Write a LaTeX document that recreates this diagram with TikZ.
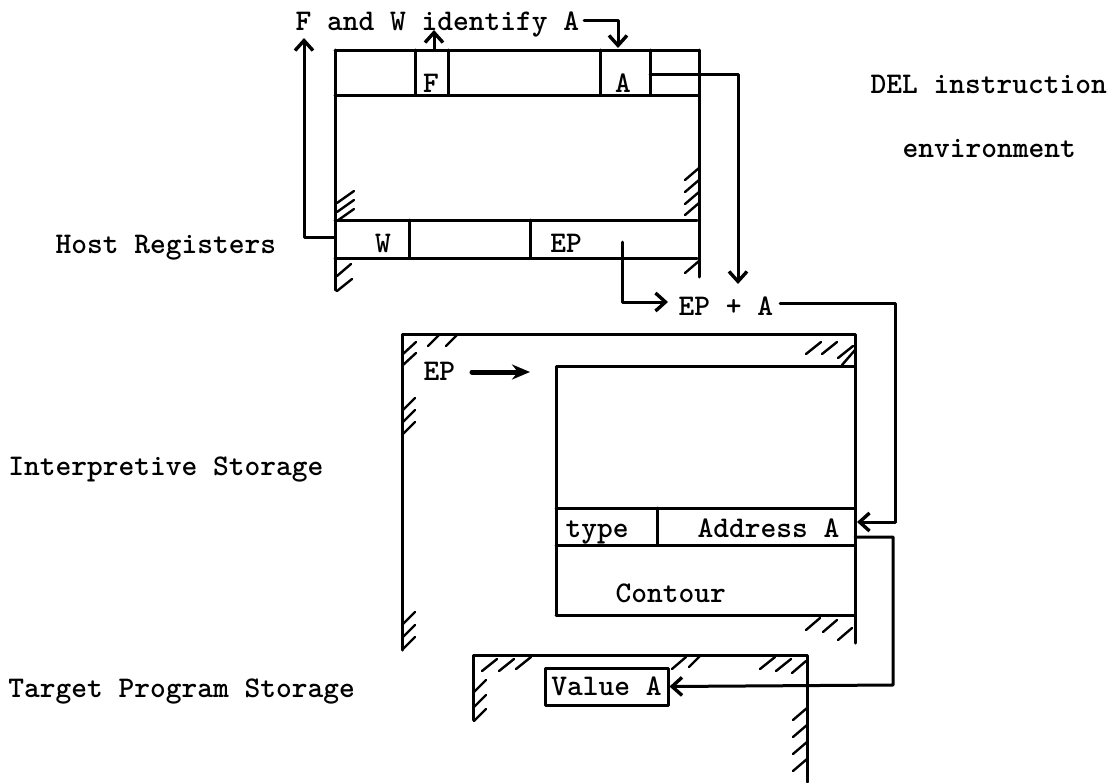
\documentclass[tikz,border=0pt]{standalone}
\usetikzlibrary{arrows.meta}
\newcommand{\hs}[3][14]{\draw[hatch] (#2,#3) -- ++(#1,-12);}
\begin{document}
\begin{tikzpicture}[x=1pt,y=-1pt,line width=3pt,line cap=round,line join=round,
  tfont/.style={font=\fontsize{30}{36}\selectfont\ttfamily\bfseries},
  lbl/.style={tfont, inner sep=0pt, anchor=base west},
  clbl/.style={tfont, inner sep=0pt, anchor=base},
  arr/.style={-{Straight Barb[length=10pt,width=18pt,line width=3.4pt]}},
  fat/.style={line width=5pt,-{Stealth[length=18pt,width=15pt]}},
  hatch/.style={line width=2.4pt}]
\useasboundingbox (0,0) rectangle (1111,782);

% ---------- texts ----------
\node[lbl] (fw) at (294,30) {F and W identify A};
\node[lbl] (host) at (54,253) {Host Registers};
\node[lbl] (del) at (869,93) {DEL instruction};
\node[lbl] (env) at (901,157) {environment};
\node[lbl] (interp) at (7,475) {Interpretive Storage};
\node[lbl] (target) at (7,697) {Target Program Storage};

% ---------- host registers ----------
\draw (335,50) -- (699,50);
\draw (335,95) -- (699,95);
\draw (335,50) -- (335,290);
\draw (699,50) -- (699,277);
\draw (335,220) -- (697,220);
\draw (335,258) -- (697,258);
\draw (415,50) -- (415,95);
\draw (448,50) -- (448,95);
\draw (600,50) -- (600,95);
\draw (650,50) -- (650,95);
\draw (409,220) -- (409,258);
\draw (530,220) -- (530,258);
\node[clbl] (Fcell) at (431,92) {F};
\node[clbl] (Acell) at (623,92) {A};
\node[clbl] (Wcell) at (383,252) {W};
\node[clbl] (EPcell) at (566,252) {EP};
% hatches host
\hs[17]{337}{203} \hs[17]{337}{212} \hs[17]{337}{221}
\hs{685}{180} \hs{685}{192} \hs{685}{204} \hs{685}{215}
\hs{337}{276} \hs[15]{337}{291}
\hs{685}{273}

% ---------- connectors at host ----------
\coordinate (Wl) at (335,237);
\coordinate (Wtip) at (304,38);
\draw[arr] (Wl) -- (304,237) -- (Wtip);
\coordinate (Ftop) at (434,50);
\coordinate (Ftip) at (434,30);
\draw[arr] (Ftop) -- (Ftip);
\coordinate (fwA) at (584,20);
\coordinate (Atip) at (618,48);
\draw[arr] (fwA) -- (618,20) -- (Atip);
\coordinate (Aout) at (650,74);
\coordinate (EPAtop) at (738,284);
\draw[arr] (Aout) -- (738,74) -- (EPAtop);

% ---------- EP + A ----------
\node[lbl] (epa) at (677,315) {EP + A};
\coordinate (EPdown) at (622,242);
\coordinate (EPAin) at (668,302);
\draw[arr] (EPdown) -- (622,302) -- (EPAin);

% ---------- interpretive storage ----------
\draw (402,650) -- (402,334) -- (855,334) -- (855,643);
\draw (556,615) -- (556,366) -- (855,366);
\draw (556,508) -- (855,508);
\draw (556,545) -- (855,545);
\draw (657,508) -- (657,545);
\draw (556,615) -- (855,615);
\node[lbl] (iEP) at (422,380) {EP};
\coordinate (iEPs) at (472,372);
\coordinate (iEPe) at (530,372);
\draw[fat] (iEPs) -- (iEPe);
\node[lbl] (type) at (564,537) {type};
\node[lbl] (addr) at (696,537) {Address A};
\node[lbl] (contour) at (614,602) {Contour};
% hatches interpretive
\hs[13]{403}{354} \hs[13]{403}{365} \hs[12]{428}{346} \hs[12]{446}{346}
\hs[15]{806}{354} \hs[15]{822}{354} \hs[15]{838}{358} \draw[hatch] (842,365) -- (855,350);
\hs[12]{403}{410} \hs[12]{403}{422} \hs[12]{403}{434}
\hs[12]{403}{624} \hs[12]{403}{637} \hs[12]{403}{649}
\hs[14]{806}{630} \hs[14]{823}{632} \hs[14]{838}{640}

% ---------- target program storage ----------
\draw (473,720) -- (473,655) -- (807,655) -- (807,782);
\node[draw, line width=3pt, minimum width=123pt, minimum height=37pt, inner sep=0pt,
      tfont] (value) at (606.5,686.5) {Value A};
\hs[15]{482}{671} \hs[15]{499}{671} \hs[15]{516}{669}
\hs[14]{672}{669} \hs[12]{689}{667}
\hs[15]{760}{669} \hs[15]{776}{671} \hs[14]{792}{673}
\hs[12]{474}{692} \hs[12]{474}{707} \hs[12]{474}{721}
\hs[14]{793}{720} \hs[14]{793}{737} \hs[14]{793}{754} \hs[14]{793}{771}

% ---------- connectors lower ----------
\coordinate (epaR) at (780,303);
\coordinate (addrIn) at (857,522);
\draw[arr] (epaR) -- (895,303) -- (895,522) -- (addrIn);
\coordinate (addrOut) at (855,537);
\draw[arr] (addrOut) -- (893,537) -- (893,685) -- (value.east);
\end{tikzpicture}
\end{document}
